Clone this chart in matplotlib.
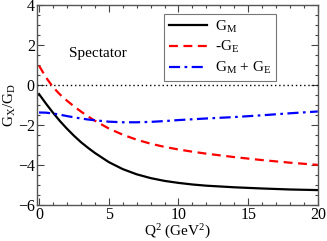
import matplotlib
matplotlib.use('Agg')
from matplotlib import pyplot as plt
from matplotlib.ticker import MultipleLocator

# values
q2 = [0, 0.5, 1, 1.5, 2, 2.5, 3, 3.5, 4, 5, 6, 7, 8, 9, 10, 11, 12, 14, 16, 18, 20]
g_m = [-0.45, -0.93, -1.38, -1.8, -2.18, -2.53, -2.85, -3.13, -3.39, -3.85, -4.2, -4.46,
       -4.65, -4.79, -4.89, -4.97, -5.03, -5.11, -5.17, -5.22, -5.25]
minus_g_e = [0.97, 0.38, -0.1, -0.47, -0.78, -1.06, -1.32, -1.56, -1.78, -2.17, -2.48, -2.73,
             -2.93, -3.09, -3.22, -3.33, -3.43, -3.6, -3.75, -3.88, -3.99]
g_m_plus_g_e = [-1.37, -1.38, -1.42, -1.48, -1.55, -1.61, -1.67, -1.72, -1.76, -1.83, -1.86,
                -1.86, -1.84, -1.8, -1.75, -1.71, -1.67, -1.6, -1.51, -1.41, -1.32]

labels = [r'G$_\mathrm{M}$', r'-G$_\mathrm{E}$', r'G$_\mathrm{M}$ + G$_\mathrm{E}$']

plt.rcParams['font.family'] = ['Liberation Serif', 'DejaVu Serif']
plt.rcParams['mathtext.fontset'] = 'custom'
plt.rcParams['mathtext.rm'] = 'Liberation Serif'
plt.rcParams['mathtext.it'] = 'Liberation Serif'


def main():
    fig = plt.figure(figsize=(3.27, 2.41), dpi=100)
    ax = fig.add_axes([0.113, 0.149, 0.859, 0.83])

    ax.axhline(0, color='black', linestyle=(0, (1, 2)), linewidth=1)
    ax.plot(q2, g_m, color='black', linewidth=1.6, label=labels[0])
    ax.plot(q2, minus_g_e, color='red', linewidth=1.6, linestyle=(0, (4, 2.5)), label=labels[1])
    ax.plot(q2, g_m_plus_g_e, color='blue', linewidth=1.6,
            linestyle=(0, (5, 2, 1.2, 2)), label=labels[2])

    ax.text(2.15, 1.57, 'Spectator', fontsize=11, va='center')

    ax.set_xlim(-0.15, 20)
    ax.set_ylim(-6, 4)
    ax.xaxis.set_major_locator(MultipleLocator(5))
    ax.xaxis.set_minor_locator(MultipleLocator(1))
    ax.yaxis.set_major_locator(MultipleLocator(2))
    ax.yaxis.set_minor_locator(MultipleLocator(0.5))
    ax.tick_params(which='both', direction='in', top=True, right=True,
                   labelsize=11.5, colors='#444444', labelcolor='black', pad=1.5)
    ax.tick_params(which='major', length=5, width=0.8)
    ax.tick_params(which='minor', length=2.5, width=0.8)
    for s in ax.spines.values():
        s.set_color('#555555')
        s.set_linewidth(1)

    ax.set_xlabel(r'Q$^2$ (GeV$^2$)', fontsize=11, labelpad=0)
    ax.set_ylabel(r'G$_\mathrm{X}$/G$_\mathrm{D}$', fontsize=11, labelpad=0)

    leg = ax.legend(loc='upper right', bbox_to_anchor=(0.85, 0.955), fontsize=11,
                    fancybox=False, edgecolor='#555555', handlelength=2.5,
                    borderpad=0.3, labelspacing=0.3, handletextpad=0.5,
                    borderaxespad=0)
    leg.get_frame().set_linewidth(0.8)

    fig.savefig('out.png', dpi=100)


if __name__ == '__main__':
    main()
